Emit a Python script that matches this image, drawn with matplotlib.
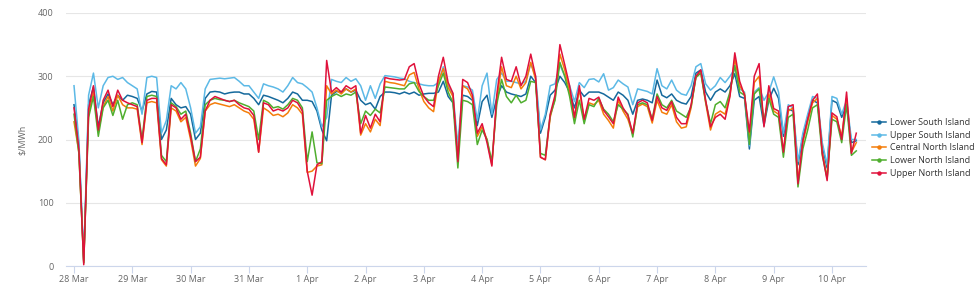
import matplotlib
matplotlib.use("Agg")
import matplotlib.pyplot as plt
import matplotlib.dates as mdates
from matplotlib.lines import Line2D
from matplotlib.ticker import FuncFormatter
import pandas as pd

plt.rcParams["font.family"] = ["Open Sans", "DejaVu Sans"]

# 2-hourly prices, 28 Mar 00:00 .. 10 Apr 10:00 ($/MWh), one row per day
times = pd.date_range("2022-03-28 00:00", periods=162, freq="2h")

lower_south = [
    255, 192, 8, 255, 283, 220, 258, 272, 255, 270, 262, 270,
    268, 265, 245, 272, 276, 275, 200, 215, 265, 255, 250, 252,
    240, 200, 210, 265, 275, 276, 275, 272, 274, 275, 275, 272,
    272, 265, 255, 270, 268, 265, 262, 258, 265, 275, 272, 262,
    262, 260, 245, 215, 198, 270, 276, 275, 280, 275, 278, 262,
    255, 258, 248, 268, 275, 275, 274, 272, 275, 272, 275, 270,
    272, 273, 273, 275, 292, 268, 258, 185, 270, 268, 262, 222,
    260, 270, 235, 265, 285, 275, 272, 270, 268, 272, 300, 290,
    210, 235, 270, 278, 300, 290, 275, 250, 278, 268, 275, 275,
    275, 272, 267, 262, 275, 270, 262, 240, 262, 264, 262, 258,
    294, 270, 266, 272, 262, 258, 256, 268, 305, 310, 275, 262,
    275, 280, 275, 285, 304, 268, 265, 185, 262, 268, 222, 262,
    281, 265, 205, 248, 245, 160, 205, 235, 262, 258, 190, 155,
    262, 258, 235, 255, 195, 198,
]
upper_south = [
    285, 198, 10, 270, 305, 250, 285, 298, 300, 295, 298, 290,
    285, 280, 240, 298, 300, 298, 210, 230, 285, 280, 290, 280,
    250, 210, 220, 280, 295, 296, 297, 296, 297, 298, 292, 285,
    285, 275, 265, 288, 285, 283, 280, 275, 285, 298, 290, 288,
    282, 275, 250, 220, 235, 295, 292, 290, 298, 292, 296, 285,
    262, 285, 265, 288, 301, 300, 299, 297, 296, 292, 290, 288,
    286, 285, 285, 290, 315, 285, 272, 190, 285, 283, 278, 230,
    285, 305, 240, 295, 305, 292, 292, 290, 288, 292, 320, 300,
    215, 240, 285, 288, 318, 300, 285, 260, 290, 282, 295, 296,
    291, 304, 278, 282, 294, 288, 283, 255, 280, 278, 276, 272,
    312, 285, 280, 294, 278, 272, 270, 285, 315, 320, 288, 278,
    285, 298, 290, 300, 312, 280, 275, 190, 275, 282, 262, 275,
    299, 275, 210, 255, 250, 165, 210, 240, 268, 265, 195, 160,
    268, 265, 240, 262, 200, 200,
]
central_north = [
    228, 180, 5, 240, 275, 212, 252, 268, 245, 270, 255, 250,
    250, 248, 192, 258, 260, 258, 168, 158, 250, 245, 228, 235,
    200, 158, 170, 245, 255, 258, 256, 254, 252, 255, 250, 245,
    242, 232, 180, 250, 245, 238, 240, 236, 242, 255, 250, 240,
    148, 150, 158, 160, 285, 272, 278, 272, 280, 275, 280, 207,
    225, 212, 232, 222, 292, 290, 289, 287, 285, 302, 306, 280,
    260, 250, 244, 292, 312, 282, 268, 168, 285, 280, 265, 205,
    220, 200, 160, 262, 315, 285, 282, 300, 280, 290, 322, 295,
    172, 168, 235, 265, 335, 310, 275, 232, 280, 230, 258, 255,
    262, 240, 230, 218, 262, 245, 232, 208, 252, 256, 252, 226,
    262, 243, 240, 255, 228, 218, 220, 250, 300, 306, 258, 215,
    240, 245, 240, 270, 328, 285, 272, 202, 290, 300, 225, 272,
    245, 240, 180, 245, 250, 135, 195, 228, 258, 265, 180, 140,
    238, 232, 205, 265, 180, 195,
]
lower_north = [
    240, 178, 5, 235, 268, 205, 250, 262, 238, 262, 232, 255,
    258, 255, 200, 268, 270, 268, 175, 165, 258, 252, 240, 245,
    210, 165, 185, 255, 262, 265, 263, 262, 260, 262, 258, 255,
    252, 245, 200, 262, 258, 250, 252, 248, 255, 265, 262, 250,
    165, 212, 163, 162, 262, 268, 272, 268, 272, 270, 275, 225,
    245, 238, 248, 242, 283, 282, 281, 280, 280, 288, 290, 276,
    268, 262, 262, 285, 305, 275, 258, 155, 262, 260, 255, 192,
    215, 200, 165, 255, 295, 268, 258, 270, 258, 262, 292, 290,
    178, 175, 238, 262, 322, 300, 268, 225, 262, 225, 255, 252,
    265, 248, 240, 228, 255, 248, 240, 204, 255, 258, 255, 232,
    272, 255, 250, 262, 245, 240, 235, 252, 298, 305, 260, 225,
    255, 260, 250, 275, 317, 275, 270, 192, 272, 280, 230, 265,
    240, 235, 172, 235, 240, 125, 185, 215, 250, 255, 175, 138,
    232, 228, 195, 255, 175, 182,
]
upper_north = [
    250, 185, 2, 248, 285, 215, 262, 278, 252, 278, 262, 258,
    255, 252, 195, 262, 265, 265, 170, 160, 255, 250, 232, 240,
    205, 165, 172, 245, 262, 268, 265, 262, 260, 262, 255, 250,
    248, 238, 180, 258, 255, 245, 248, 245, 250, 262, 258, 245,
    150, 112, 160, 165, 325, 275, 282, 275, 285, 280, 285, 210,
    238, 218, 240, 228, 298, 296, 295, 294, 295, 315, 320, 288,
    268, 258, 252, 300, 330, 290, 273, 165, 295, 290, 270, 210,
    225, 195, 158, 270, 330, 295, 292, 315, 285, 300, 335, 300,
    172, 168, 240, 270, 350, 318, 285, 235, 285, 232, 265, 262,
    267, 246, 236, 225, 267, 250, 238, 210, 258, 262, 258, 230,
    268, 250, 246, 260, 235, 225, 225, 255, 300, 310, 262, 220,
    235, 240, 232, 268, 337, 292, 270, 212, 300, 320, 220, 285,
    249, 245, 180, 252, 255, 130, 198, 232, 262, 272, 178, 135,
    242, 236, 200, 275, 178, 210,
]

names = ["Lower South Island", "Upper South Island", "Central North Island",
         "Lower North Island", "Upper North Island"]
colors = ["#15699c", "#5cb9e6", "#f47d0a", "#4fae2e", "#e0113b"]
series = [lower_south, upper_south, central_north, lower_north, upper_north]

fig = plt.figure(figsize=(9.8, 2.84), dpi=100)
ax = fig.add_axes([66 / 980, 1 - 266 / 284, 800 / 980, 253 / 284])

for vals, col, name in zip(series, colors, names):
    ax.plot(times, vals, color=col, lw=1.1, label=name)

ax.set_ylim(0, 400)
ax.set_yticks([0, 100, 200, 300, 400])
ax.set_xlim(times[0] - pd.Timedelta(hours=3.3), pd.Timestamp("2022-04-10 14:00"))
ax.grid(axis="y", color="#e6e6e6", lw=0.8)
ax.set_axisbelow(True)

ax.xaxis.set_major_locator(mdates.DayLocator())
ax.xaxis.set_major_formatter(
    FuncFormatter(lambda x, pos: f"{mdates.num2date(x).day} {mdates.num2date(x):%b}"))

for side in ["left", "right", "top"]:
    ax.spines[side].set_visible(False)
ax.spines["bottom"].set_color("#ccd6eb")
ax.tick_params(axis="x", length=5, color="#ccd6eb", labelsize=6.5, labelcolor="#666666", pad=1.5)
ax.tick_params(axis="y", length=0, labelsize=6.5, labelcolor="#666666", pad=9)
ax.set_ylabel(r"\$/MWh", fontsize=6.5, color="#666666", labelpad=8)

handles = [Line2D([0], [0], color=c, lw=1.1, marker="o", ms=2.2) for c in colors]
fig.legend(handles, names, loc="center left", bbox_to_anchor=(864 / 980, 1 - 148 / 284),
           frameon=False, fontsize=6.5, handlelength=1.5, handletextpad=0.5,
           labelspacing=0.42, labelcolor="#333333")

fig.savefig("out.png", dpi=100)
